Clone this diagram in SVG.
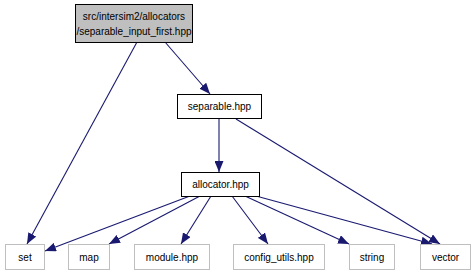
<svg xmlns="http://www.w3.org/2000/svg" width="475" height="276" viewBox="0 0 475 276">
<style>
  text { font-family: "Liberation Sans", Arial, sans-serif; font-size: 10px; fill: #000; text-anchor: middle; }
  .edge { stroke: #191970; stroke-width: 1.1; fill: none; }
  .node { fill: #fff; stroke: #000; stroke-width: 1; }
  .cur { fill: #bfbfbf; stroke: #000; stroke-width: 1; }
  .ext { fill: #fff; stroke: #bfbfbf; stroke-width: 1; }
</style>
<defs>
  <marker id="arrow" viewBox="0 0 11 9" refX="11" refY="4.5" markerWidth="11" markerHeight="9" markerUnits="userSpaceOnUse" orient="auto">
    <path d="M0,0 L11,4.5 L0,9 Z" fill="#191970"/>
  </marker>
</defs>
<rect width="475" height="276" fill="#fff"/>
<g id="edges">
  <line class="edge" x1="137" y1="42" x2="27" y2="244" marker-end="url(#arrow)"/>
  <line class="edge" x1="165" y1="42" x2="210" y2="94" marker-end="url(#arrow)"/>
  <line class="edge" x1="219" y1="119" x2="219" y2="172" marker-end="url(#arrow)"/>
  <line class="edge" x1="236" y1="119" x2="440" y2="244" marker-end="url(#arrow)"/>
  <line class="edge" x1="190" y1="196" x2="45" y2="251" marker-end="url(#arrow)"/>
  <line class="edge" x1="200" y1="196" x2="109" y2="244" marker-end="url(#arrow)"/>
  <line class="edge" x1="211" y1="196" x2="181" y2="244" marker-end="url(#arrow)"/>
  <line class="edge" x1="232" y1="196" x2="268" y2="244" marker-end="url(#arrow)"/>
  <line class="edge" x1="245" y1="196" x2="349" y2="244" marker-end="url(#arrow)"/>
  <line class="edge" x1="256" y1="196" x2="432" y2="244" marker-end="url(#arrow)"/>
</g>
<g id="node-separable_input_first">
  <rect class="cur" x="75.5" y="4.5" width="117" height="38"/>
  <text x="134" y="20">src/intersim2/allocators</text>
  <text x="134" y="35">/separable_input_first.hpp</text>
</g>
<g id="node-separable">
  <rect class="node" x="177.5" y="94.5" width="84" height="24"/>
  <text x="219.5" y="110">separable.hpp</text>
</g>
<g id="node-allocator">
  <rect class="node" x="181.5" y="172.5" width="78" height="24"/>
  <text x="220.5" y="188">allocator.hpp</text>
</g>
<g id="node-set">
  <rect class="ext" x="5.5" y="244.5" width="39" height="25"/>
  <text x="25" y="260.5">set</text>
</g>
<g id="node-map">
  <rect class="ext" x="68.5" y="244.5" width="41" height="25"/>
  <text x="89" y="260.5">map</text>
</g>
<g id="node-module">
  <rect class="ext" x="134.5" y="244.5" width="75" height="25"/>
  <text x="172" y="260.5">module.hpp</text>
</g>
<g id="node-config_utils">
  <rect class="ext" x="233.5" y="244.5" width="91" height="25"/>
  <text x="279" y="260.5">config_utils.hpp</text>
</g>
<g id="node-string">
  <rect class="ext" x="349.5" y="244.5" width="45" height="25"/>
  <text x="372" y="260.5">string</text>
</g>
<g id="node-vector">
  <rect class="ext" x="420.5" y="244.5" width="50" height="25"/>
  <text x="445.5" y="260.5">vector</text>
</g>
</svg>
